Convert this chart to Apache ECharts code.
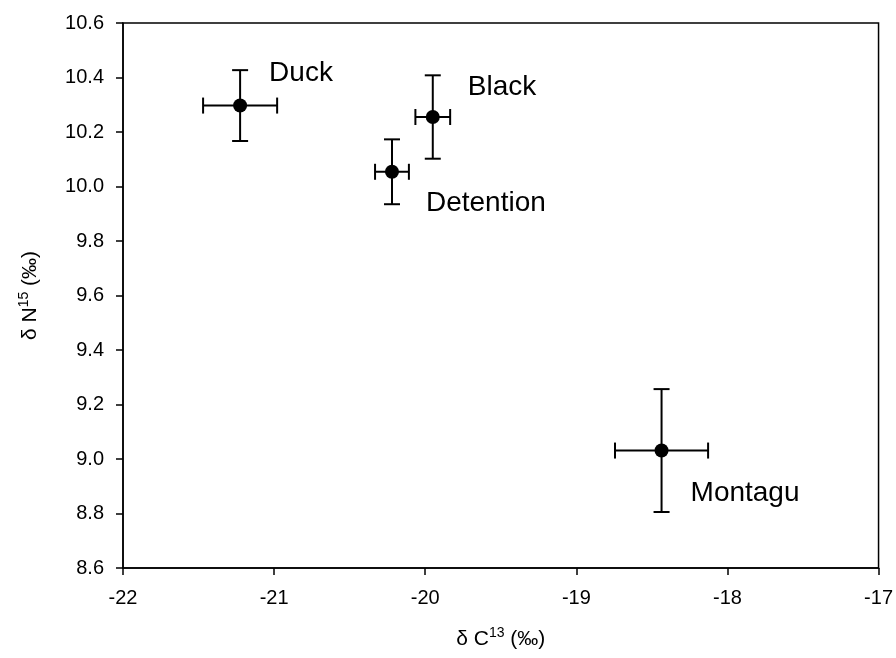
<!DOCTYPE html>
<html>
<head>
<meta charset="utf-8">
<script src="https://cdn.jsdelivr.net/npm/echarts@6/dist/echarts.min.js"></script>
<style>
  html, body { margin: 0; padding: 0; background: #fff; }
  #chart { width: 896px; height: 658px; }
</style>
</head>
<body>
<div id="chart"></div>
<script>
// sites and their isotope means / errors
const sites = ['Duck', 'Black', 'Detention', 'Montagu'];
const d13C = [-21.225, -19.95, -20.22, -18.436];
const d15N = [10.297, 10.255, 10.054, 9.031];
const d13CErr = [0.245, 0.115, 0.112, 0.308];
const d15NErr = [0.13, 0.153, 0.119, 0.2255];
const xTicks = [-22, -21, -20, -19, -18, -17];
const yTicks = [8.6, 8.8, 9.0, 9.2, 9.4, 9.6, 9.8, 10.0, 10.2, 10.4, 10.6];

// label offsets (px) from each point
const labelOffset = {
  Duck: [29, -32],
  Black: [35, -30],
  Detention: [34, 31],
  Montagu: [29, 43]
};

const font = '"Liberation Sans", Arial, sans-serif';
let myChart = echarts.init(document.getElementById('chart'));

let pts = [], errs = [];
for (let i = 0, len = sites.length; i < len; i++) {
  pts.push({
    name: sites[i],
    value: [d13C[i], d15N[i]],
    label: { offset: labelOffset[sites[i]] }
  });
  errs.push([d13C[i], d15N[i], d13CErr[i], d15NErr[i]]);
}

const cap = 8;
function renderErr (params, api) {
  let x = api.value(0), y = api.value(1), ex = api.value(2), ey = api.value(3);
  let l = api.coord([x - ex, y]), r = api.coord([x + ex, y]);
  let t = api.coord([x, y + ey]), b = api.coord([x, y - ey]);
  let style = { stroke: '#000', lineWidth: 2 };
  let seg = (x1, y1, x2, y2) => ({ type: 'line', shape: { x1, y1, x2, y2 }, style });
  return {
    type: 'group',
    children: [
      seg(l[0], l[1], r[0], r[1]),
      seg(l[0], l[1] - cap, l[0], l[1] + cap),
      seg(r[0], r[1] - cap, r[0], r[1] + cap),
      seg(t[0], t[1], b[0], b[1]),
      seg(t[0] - cap, t[1], t[0] + cap, t[1]),
      seg(b[0] - cap, b[1], b[0] + cap, b[1])
    ]
  };
}

myChart.setOption({
  animation: false,
  textStyle: { fontFamily: font },
  grid: {
    left: 123,
    right: 16,
    top: 23,
    bottom: 90,
    show: true,
    borderColor: '#000',
    borderWidth: 1.5
  },
  xAxis: {
    type: 'value',
    min: xTicks[0],
    max: xTicks[xTicks.length - 1],
    interval: 1,
    splitLine: { show: false },
    axisLine: { onZero: false, lineStyle: { color: '#000', width: 1.5 } },
    axisTick: { length: 7, lineStyle: { color: '#000', width: 1.5 } },
    axisLabel: { color: '#000', fontSize: 20, margin: 20, fontFamily: font },
    name: '{a|δ C}{s|13}{a| (‰)}',
    nameLocation: 'middle',
    nameGap: 58,
    nameTextStyle: {
      rich: {
        a: { fontSize: 21, color: '#000', fontFamily: font, lineHeight: 26 },
        s: { fontSize: 14, color: '#000', fontFamily: font, verticalAlign: 'top', lineHeight: 20 }
      }
    }
  },
  yAxis: {
    type: 'value',
    min: yTicks[0],
    max: yTicks[yTicks.length - 1],
    interval: 0.2,
    splitLine: { show: false },
    axisLine: { onZero: false, lineStyle: { color: '#000', width: 1.5 } },
    axisTick: { length: 7, lineStyle: { color: '#000', width: 1.5 } },
    axisLabel: {
      color: '#000', fontSize: 20, margin: 19, fontFamily: font,
      formatter: v => v.toFixed(1)
    },
    name: '{a|δ N}{s|15}{a| (‰)}',
    nameLocation: 'middle',
    nameGap: 80,
    nameTextStyle: {
      rich: {
        a: { fontSize: 21, color: '#000', fontFamily: font, lineHeight: 26 },
        s: { fontSize: 14, color: '#000', fontFamily: font, verticalAlign: 'top', lineHeight: 20 }
      }
    }
  },
  series: [
    {
      type: 'custom',
      renderItem: renderErr,
      data: errs,
      z: 2
    },
    {
      type: 'scatter',
      symbol: 'circle',
      symbolSize: 14,
      itemStyle: { color: '#000', opacity: 1 },
      label: {
        show: true,
        position: 'inside',
        align: 'left',
        verticalAlign: 'middle',
        formatter: '{b}',
        color: '#000',
        opacity: 1,
        fontSize: 28,
        fontFamily: font
      },
      data: pts,
      z: 3
    }
  ]
});
</script>
</body>
</html>
